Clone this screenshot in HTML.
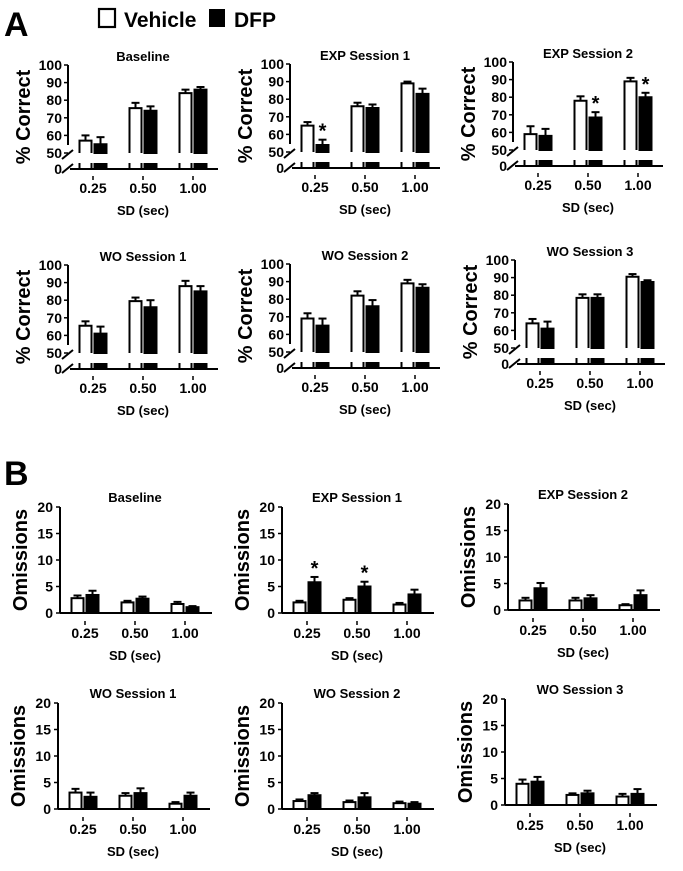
<!DOCTYPE html>
<html><head><meta charset="utf-8">
<style>
body{margin:0;background:#fff;}
svg{display:block;font-family:"Liberation Sans",Arial,sans-serif;font-weight:bold;}
</style></head>
<body>
<svg id="fig" width="683" height="871" viewBox="0 0 683 871">
  <text x="4" y="36" font-size="34">A</text>
  <text x="4" y="485" font-size="34">B</text>
  <g>
    <rect x="99" y="9" width="16" height="18" fill="#fff" stroke="#000" stroke-width="2.2"/>
    <text x="124" y="27" font-size="21">Vehicle</text>
    <rect x="209" y="9" width="16" height="18" fill="#000"/>
    <text x="234" y="27" font-size="21">DFP</text>
  </g>
</svg>
<script>
const categories = ["0.25","0.50","1.00"];
const aTitles = ["Baseline","EXP Session 1","EXP Session 2","WO Session 1","WO Session 2","WO Session 3"];
const aVehicle = [[57,75.5,84],[65,76,89],[59,78,89],[65.5,79.5,88],[69,82,89],[64,78.5,90.5]];
const aVehicleErr = [[3,3,2],[2,2,1],[4.5,2.5,2],[2.5,2,3],[3,2.5,2],[2.5,2,1.5]];
const aDfp = [[55,74,86],[54,75,83],[58,68.5,80],[61,76,85],[65,76,86.5],[61,78.5,87.5]];
const aDfpErr = [[4,2.5,1.5],[3,2,3],[4,3,2.5],[4,4,3],[4,3.5,2],[4,2,1]];
const aStars = [[0,0,0],[1,0,0],[0,1,1],[0,0,0],[0,0,0],[0,0,0]];
const aTicks = [50,60,70,80,90,100];
const bTitles = ["Baseline","EXP Session 1","EXP Session 2","WO Session 1","WO Session 2","WO Session 3"];
const bVehicle = [[2.8,2.0,1.7],[2.0,2.5,1.6],[1.8,1.8,0.9],[3.1,2.5,1.0],[1.5,1.3,1.1],[4.0,1.9,1.6]];
const bVehicleErr = [[0.5,0.3,0.4],[0.3,0.3,0.3],[0.5,0.5,0.2],[0.7,0.5,0.3],[0.3,0.3,0.3],[0.8,0.3,0.5]];
const bDfp = [[3.4,2.7,1.1],[5.8,5.0,3.5],[4.1,2.2,2.8],[2.3,3.0,2.5],[2.6,2.2,1.0],[4.4,2.2,2.1]];
const bDfpErr = [[0.8,0.4,0.2],[1.0,0.9,0.9],[1.0,0.6,0.9],[0.8,0.9,0.6],[0.4,0.8,0.3],[0.9,0.5,0.9]];
const bStars = [[0,0,0],[1,1,0],[0,0,0],[0,0,0],[0,0,0],[0,0,0]];
const bTicks = [0,5,10,15,20];

const NS = "http://www.w3.org/2000/svg";
const svg = document.getElementById("fig");
function mk(tag, attrs, parent, txt){
  const e = document.createElementNS(NS, tag);
  for (const k in attrs) e.setAttribute(k, attrs[k]);
  if (txt !== undefined) e.textContent = txt;
  (parent || svg).appendChild(e);
  return e;
}

const aPos = [[68,65],[290,64],[513,62],[68,265],[290,264],[515,260]];
const bPos = [[60,507],[282,507],[508,504],[58,703],[282,703],[505,699]];
const GROUP_OFF = [25,75,125];
const BW = 14;

function drawBars(g, xAxis, yOf, yFloor, veh, vehE, dfp, dfpE, stars, i, stubTop, openBottom){
  for (let c = 0; c < categories.length; c++){
    const cx = xAxis + GROUP_OFF[c];
    const vals = [veh[i][c], dfp[i][c]];
    const errs = [vehE[i][c], dfpE[i][c]];
    for (let s = 0; s < 2; s++){
      const x = s === 0 ? cx - BW - 0.5 : cx + 0.5;
      const yv = yOf(vals[s]);
      const ye = yOf(vals[s] + errs[s]);
      const bx = x + BW/2;
      const err = mk("line", {x1:bx, x2:bx, y1:ye, y2:yv, stroke:"#000", "stroke-width":2}, g);
      
      
      const cap = mk("line", {x1:bx-4, x2:bx+4, y1:ye, y2:ye, stroke:"#000", "stroke-width":2}, g);
      
      
      let r;
      if (openBottom){
        r = mk("path", {d:`M${x+1},${yFloor} L${x+1},${yv} L${x+BW-1},${yv} L${x+BW-1},${yFloor}` + (s===1?' Z':''),
          fill: s === 0 ? "#fff" : "#000", stroke:"#000", "stroke-width":2}, g);
      } else {
        r = mk("rect", {x:x+1, y:yv, width:BW-2, height:Math.max(0, yFloor - yv),
          fill: s === 0 ? "#fff" : "#000", stroke:"#000", "stroke-width":2}, g);
      }
      
      
      if (stubTop !== null){
        let st;
        if (s === 0){
          st = mk("path", {d:`M${x+1},${stubTop} L${x+1},${stubTop+6} M${x+BW-1},${stubTop} L${x+BW-1},${stubTop+6}`,
            fill:"none", stroke:"#000", "stroke-width":2}, g);
        } else {
          st = mk("rect", {x:x, y:stubTop, width:BW, height:6, fill:"#000"}, g);
        }
        
        
      }
      if (s === 1 && stars[i][c]){
        const t = mk("text", {x:bx, y:ye-2, "font-size":20, "text-anchor":"middle"}, g, "*");
        
        
      }
    }
  }
}

function xAxisLabels(g, xAxis, yLab){
  for (let c = 0; c < categories.length; c++){
    const cx = xAxis + GROUP_OFF[c];
    const tk = mk("line", {x1:cx, x2:cx, y1:yLab-17, y2:yLab-13, stroke:"#000", "stroke-width":1.5}, g);
    
    
    const t = mk("text", {x:cx, y:yLab, "font-size":14, "text-anchor":"middle"}, g, categories[c]);
    
    
  }
  const sd = mk("text", {x:xAxis+75, y:yLab+22, "font-size":13, "text-anchor":"middle"}, g, "SD (sec)");
  
  
}

// Panel A
for (let i = 0; i < 6; i++){
  const [xA, yTop] = aPos[i];
  const g = mk("g", {});
  
  
  const yOf = v => yTop + (100 - v) * 1.76;
  const y50 = yOf(50);
  const yAx = y50 + 16;
  const tt = mk("text", {x:xA+75, y:yTop-4, "font-size":13, "text-anchor":"middle"}, g, aTitles[i]);
  
  
  const yl = mk("text", {x:0, y:0, "font-size":20, "text-anchor":"middle", transform:`translate(${xA-38},${(yTop+yAx)/2}) rotate(-90)`}, g, "% Correct");
  
  
  mk("line", {x1:xA, x2:xA, y1:yTop, y2:y50-8, stroke:"#000", "stroke-width":2}, g);
  mk("line", {x1:xA-6, x2:xA+5, y1:y50+6, y2:y50-3, stroke:"#000", "stroke-width":2}, g);
  mk("line", {x1:xA-6, x2:xA+5, y1:yAx+4, y2:yAx-5, stroke:"#000", "stroke-width":2}, g);
  mk("line", {x1:xA+2, x2:xA+150, y1:yAx, y2:yAx, stroke:"#000", "stroke-width":2}, g);
  for (const t of aTicks){
    mk("line", {x1:xA-4, x2:xA, y1:yOf(t), y2:yOf(t), stroke:"#000", "stroke-width":1.5}, g);
    const tl = mk("text", {x:xA-6, y:yOf(t)+5, "font-size":14, "text-anchor":"end"}, g, String(t));
    
    
  }
  const z = mk("text", {x:xA-6, y:yAx+5, "font-size":14, "text-anchor":"end"}, g, "0");
  
  
  drawBars(g, xA, yOf, y50, aVehicle, aVehicleErr, aDfp, aDfpErr, aStars, i, yAx-6, true);
  xAxisLabels(g, xA, yAx+24);
}

// Panel B
for (let i = 0; i < 6; i++){
  const [xA, yTop] = bPos[i];
  const g = mk("g", {});
  
  
  const yOf = v => yTop + (20 - v) * 5.3;
  const y0 = yOf(0);
  const tt = mk("text", {x:xA+75, y:yTop-5, "font-size":13, "text-anchor":"middle"}, g, bTitles[i]);
  
  
  const yl = mk("text", {x:0, y:0, "font-size":20, "text-anchor":"middle", transform:`translate(${xA-33},${(yTop+y0)/2}) rotate(-90)`}, g, "Omissions");
  
  
  mk("line", {x1:xA, x2:xA, y1:yTop, y2:y0, stroke:"#000", "stroke-width":2}, g);
  mk("line", {x1:xA, x2:xA+152, y1:y0, y2:y0, stroke:"#000", "stroke-width":2}, g);
  for (const t of bTicks){
    mk("line", {x1:xA-4, x2:xA, y1:yOf(t), y2:yOf(t), stroke:"#000", "stroke-width":1.5}, g);
    const tl = mk("text", {x:xA-7, y:yOf(t)+5, "font-size":14, "text-anchor":"end"}, g, String(t));
    
    
  }
  drawBars(g, xA, yOf, y0, bVehicle, bVehicleErr, bDfp, bDfpErr, bStars, i, null, false);
  xAxisLabels(g, xA, y0+25);
}
</script>
</body></html>
